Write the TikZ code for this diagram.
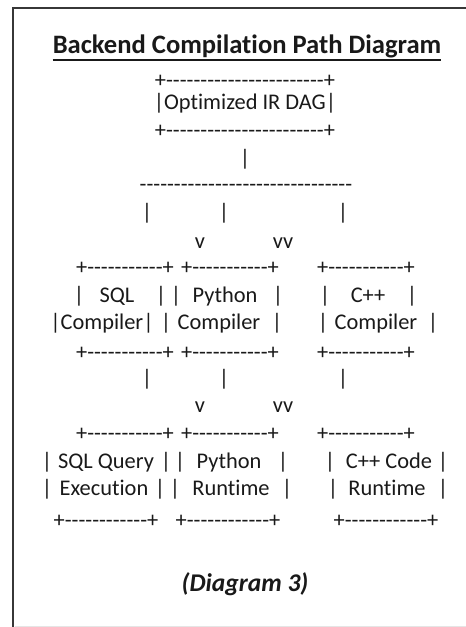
\documentclass[tikz,border=0pt]{standalone}
\usepackage{fontspec}
\newfontfamily\artfont{Carlito}[Ligatures=NoCommon]
\usepackage{tikz}
\usetikzlibrary{positioning}
\definecolor{framegray}{RGB}{55, 55, 55}
\definecolor{inkblack}{RGB}{25, 25, 25}

\begin{document}
\begin{tikzpicture}[x=1pt, y=-1pt,
  art/.style={inner sep=0pt, anchor=base, text=inkblack, font=\artfont\fontsize{22.4}{26}\selectfont},
  heading/.style={inner sep=0pt, anchor=base, text=inkblack, font=\artfont\fontsize{26.6}{30}\selectfont\bfseries},
  caption/.style={inner sep=0pt, anchor=base, text=inkblack, font=\artfont\fontsize{25.5}{30}\selectfont\bfseries\itshape}]
  \useasboundingbox (0,0) rectangle (466,627);

  % Frame
  \draw[framegray, line width=2.4pt] (13,627) -- (13,8) -- (466,8);
  \draw[black!10, line width=1pt] (15,626) -- (466,626);

  % Title
  \node[heading] (title) at (247,53) {Backend Compilation Path Diagram};
  \draw[inkblack, line width=1.4pt] ([yshift=-7pt]title.base west) -- ([yshift=-7pt]title.base east);

  % IR box
  \node[art] (irtop) at (245,87) {+-----------------------+};
  \node[art] (ir) at (245,109) {|Optimized IR DAG|};
  \node[art] (irbot) at (245,137) {+-----------------------+};
  \node[art] (irstem) at (245,165) {|};
  \node[art] (split) at (246,191) {-------------------------------};

  % First level
  \foreach \x [count=\i] in {147, 224, 343}
    \node[art] (drop1-\i) at (\x,219) {|};
  \node[art] (arrow1a) at (200,248) {v};
  \node[art] (arrow1b) at (283,248) {vv};
  \foreach \x [count=\i] in {125, 230, 366}
    \node[art] (comptop-\i) at (\x,274) {+-----------+};
  \foreach \x [count=\i] in {79, 161, 176, 278, 325, 412}
    \node[art] (compbar-\i) at (\x,302) {|};
  \node[art] (sql) at (117,302) {SQL};
  \node[art] (python) at (225,302) {Python};
  \node[art] (cpp) at (368,302) {C++};
  \node[art] (sqlcomp) at (102,329) {|Compiler|};
  \foreach \x [count=\i] in {166, 277, 323, 433}
    \node[art] (compbarb-\i) at (\x,329) {|};
  \node[art] (pycomp) at (219,329) {Compiler};
  \node[art] (cppcomp) at (376,329) {Compiler};
  \foreach \x [count=\i] in {125, 230, 366}
    \node[art] (compbot-\i) at (\x,359) {+-----------+};

  % Second level
  \foreach \x [count=\i] in {147, 224, 343}
    \node[art] (drop2-\i) at (\x,385) {|};
  \node[art] (arrow2a) at (200,412) {v};
  \node[art] (arrow2b) at (283,412) {vv};
  \foreach \x [count=\i] in {125, 230, 366}
    \node[art] (runtop-\i) at (\x,440) {+-----------+};
  \foreach \x [count=\i] in {47, 166, 180, 283, 330, 443}
    \node[art] (runbar-\i) at (\x,468) {|};
  \node[art] (sqlquery) at (106,468) {SQL Query};
  \node[art] (pyrun) at (229,468) {Python};
  \node[art] (cppcode) at (389,468) {C++ Code};
  \foreach \x [count=\i] in {47, 160, 175, 287, 333, 443}
    \node[art] (runbarb-\i) at (\x,495) {|};
  \node[art] (execution) at (104,495) {Execution};
  \node[art] (pyruntime) at (231,495) {Runtime};
  \node[art] (cppruntime) at (387,495) {Runtime};
  \foreach \x [count=\i] in {106, 228, 386}
    \node[art] (runbot-\i) at (\x,527) {+------------+};

  % Caption
  \node[caption] (label) at (245,591) {(Diagram 3)};
\end{tikzpicture}
\end{document}
